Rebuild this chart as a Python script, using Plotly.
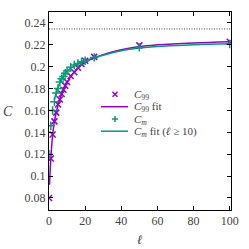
import plotly.graph_objects as go

# data
ell = [0, 1, 2, 3, 4, 5, 6, 7, 8, 9, 10, 12, 14, 16, 18, 20, 25, 50, 100]
c99 = [0.080, 0.116, 0.138, 0.150, 0.158, 0.1655, 0.170, 0.175, 0.179, 0.1825,
       0.186, 0.1915, 0.195, 0.199, 0.2025, 0.2055, 0.209, 0.2195, 0.2228]
cm = [0.120, 0.146, 0.160, 0.168, 0.176, 0.180, 0.186, 0.189, 0.191, 0.194,
      0.196, 0.1995, 0.2015, 0.203, 0.2045, 0.2055, 0.2085, 0.2177, 0.2208]

fit99_x = [0.3, 0.6, 1, 1.5, 2, 3, 5, 7, 10, 15, 20, 30, 40, 50, 60, 80, 100]
fit99_y = [0.092, 0.104, 0.116, 0.128, 0.137, 0.150, 0.165, 0.175, 0.186, 0.197,
           0.204, 0.211, 0.2155, 0.2185, 0.2200, 0.2217, 0.2228]
fitm_x = [3, 4, 5, 7, 10, 15, 20, 30, 40, 50, 60, 80, 100]
fitm_y = [0.170, 0.176, 0.181, 0.189, 0.196, 0.2015, 0.2055, 0.2105, 0.2145, 0.2170,
          0.2185, 0.2200, 0.2210]

asym = 0.2345
yticks = [0.08, 0.10, 0.12, 0.14, 0.16, 0.18, 0.20, 0.22, 0.24]
ytext = ["0.08", "0.1", "0.12", "0.14", "0.16", "0.18", "0.2", "0.22", "0.24"]
xticks = [0, 20, 40, 60, 80, 100]
legend_labels = ["<i>C</i><sub>99</sub>", "<i>C</i><sub>99</sub> fit",
                 "<i>C</i><sub><i>m</i></sub>", "<i>C</i><sub><i>m</i></sub> fit (<i>ℓ</i> ≥ 10)"]

PURPLE = "#9400D3"
GREEN = "#009E73"
FONT = "Liberation Serif, DejaVu Serif, serif"
TXT = "#444"

fig = go.Figure()
fig.add_trace(go.Scatter(x=[0, 100.7], y=[asym, asym], mode="lines",
                         line=dict(color="#444", width=1, dash="1px,1.5px"),
                         showlegend=False, hoverinfo="skip"))
fig.add_trace(go.Scatter(x=fit99_x, y=fit99_y, mode="lines",
                         line=dict(color=PURPLE, width=1.5, shape="spline"), showlegend=False))
fig.add_trace(go.Scatter(x=fitm_x, y=fitm_y, mode="lines",
                         line=dict(color=GREEN, width=1.5, shape="spline"), showlegend=False))
fig.add_trace(go.Scatter(x=ell, y=c99, mode="markers",
                         marker=dict(symbol="x-thin", size=6, color=PURPLE,
                                     line=dict(color=PURPLE, width=1.5)), showlegend=False))
fig.add_trace(go.Scatter(x=ell, y=cm, mode="markers",
                         marker=dict(symbol="cross-thin", size=6, color=GREEN,
                                     line=dict(color=GREEN, width=1.5)), showlegend=False))

# manual legend (plot area: x 49..231 px, y 12..210 px)
def px(xp):
    return (xp - 49) / 182.0

def py(yp):
    return (210 - yp) / 198.0

rows = [94.3, 106.7, 119.0, 131.2]
shapes = []
annotations = []
cx, cy = 115, rows[0]
shapes.append(dict(type="line", xref="paper", yref="paper", x0=px(cx - 2.5), x1=px(cx + 2.5),
                   y0=py(cy - 2.5), y1=py(cy + 2.5), line=dict(color=PURPLE, width=1.5)))
shapes.append(dict(type="line", xref="paper", yref="paper", x0=px(cx - 2.5), x1=px(cx + 2.5),
                   y0=py(cy + 2.5), y1=py(cy - 2.5), line=dict(color=PURPLE, width=1.5)))
shapes.append(dict(type="line", xref="paper", yref="paper", x0=px(101), x1=px(128),
                   y0=py(rows[1]), y1=py(rows[1]), line=dict(color=PURPLE, width=1.5)))
cy = rows[2]
shapes.append(dict(type="line", xref="paper", yref="paper", x0=px(cx - 3), x1=px(cx + 3),
                   y0=py(cy), y1=py(cy), line=dict(color=GREEN, width=1.5)))
shapes.append(dict(type="line", xref="paper", yref="paper", x0=px(cx), x1=px(cx),
                   y0=py(cy - 3), y1=py(cy + 3), line=dict(color=GREEN, width=1.5)))
shapes.append(dict(type="line", xref="paper", yref="paper", x0=px(101), x1=px(128),
                   y0=py(rows[3]), y1=py(rows[3]), line=dict(color=GREEN, width=1.5)))
for r, lab in zip(rows, legend_labels):
    annotations.append(dict(x=px(133), y=py(r + 0.5), xref="paper", yref="paper", text=lab,
                            showarrow=False, xanchor="left", yanchor="middle",
                            borderpad=0,
                            font=dict(family=FONT, size=11, color=TXT)))
annotations.append(dict(x=px(8), y=py(111), xref="paper", yref="paper", text="<i>C</i>",
                        showarrow=False, xanchor="center", yanchor="middle",
                        font=dict(family=FONT, size=14, color=TXT)))
annotations.append(dict(x=px(140), y=py(239), xref="paper", yref="paper", text="<i>ℓ</i>",
                        showarrow=False, xanchor="center", yanchor="middle",
                        font=dict(family=FONT, size=13, color=TXT)))

axis_common = dict(showline=True, linecolor="black", linewidth=1, mirror="ticks",
                   ticks="inside", ticklen=4, tickcolor="black", showgrid=False,
                   zeroline=False, automargin=False,
                   tickfont=dict(family=FONT, size=12, color=TXT))
fig.update_xaxes(range=[0, 100.7], tickvals=xticks, **axis_common)
fig.update_yaxes(range=[0.069, 0.25], tickvals=yticks, ticktext=ytext, **axis_common)

fig.update_layout(
    width=249, height=249,
    margin=dict(l=49, r=18, t=12, b=39),
    plot_bgcolor="white", paper_bgcolor="white",
    font=dict(family=FONT, size=12, color=TXT),
    showlegend=False,
    shapes=shapes, annotations=annotations,
)
fig.write_html("out.html", config={"displayModeBar": False},
               post_script="document.body.style.margin='0';")
